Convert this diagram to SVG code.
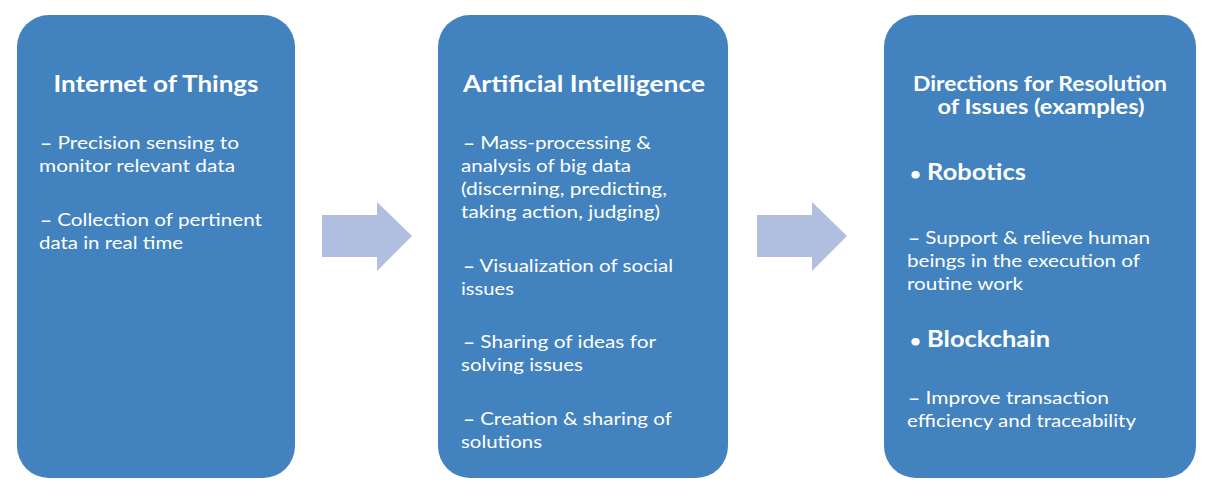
<svg xmlns="http://www.w3.org/2000/svg" width="1211" height="497" viewBox="0 0 1211 497">
<style>
.box{fill:#4282BE;}
.arr{fill:#B0BEDF;}
text{fill:#FFFFFF;font-family:Lato,"Open Sans","Liberation Sans",sans-serif;}
.t{font-size:22px;font-weight:bold;text-anchor:middle;}
.t2{font-size:20px;font-weight:bold;text-anchor:middle;}
.b{font-size:17.5px;}
.h{font-size:23px;font-weight:bold;}
.d{font-weight:bold;}
.bu{font-size:17px;}
</style>
<rect width="1211" height="497" fill="#FFFFFF"/>
<g id="connectors">
<polygon class="arr" points="322,215 377,215 377,202 412,236 377,271 377,257 322,257"/>
<polygon class="arr" points="757,215 812,215 812,202 847,236 812,271 812,257 757,257"/>
</g>
<g id="node-iot">
<rect class="box" x="17" y="15" width="278" height="463" rx="32" ry="32"/>
<text class="t" x="156" y="92" textLength="205" lengthAdjust="spacingAndGlyphs">Internet of Things</text>
<text class="b" x="40" y="149" textLength="199" lengthAdjust="spacingAndGlyphs"><tspan class="d">–</tspan> Precision sensing to</text>
<text class="b" x="39" y="172" textLength="196" lengthAdjust="spacingAndGlyphs">monitor relevant data</text>
<text class="b" x="40" y="226" textLength="222" lengthAdjust="spacingAndGlyphs"><tspan class="d">–</tspan> Collection of pertinent</text>
<text class="b" x="39" y="249" textLength="144" lengthAdjust="spacingAndGlyphs">data in real time</text>
</g>
<g id="node-ai">
<rect class="box" x="438" y="15" width="290" height="463" rx="32" ry="32"/>
<text class="t" x="584" y="92" textLength="242" lengthAdjust="spacingAndGlyphs">Artificial Intelligence</text>
<text class="b" x="463" y="149" textLength="188" lengthAdjust="spacingAndGlyphs"><tspan class="d">–</tspan> Mass-processing &amp;</text>
<text class="b" x="461" y="172" textLength="170" lengthAdjust="spacingAndGlyphs">analysis of big data</text>
<text class="b" x="461" y="195" textLength="206" lengthAdjust="spacingAndGlyphs">(discerning, predicting,</text>
<text class="b" x="461" y="218" textLength="199" lengthAdjust="spacingAndGlyphs">taking action, judging)</text>
<text class="b" x="463" y="272" textLength="210" lengthAdjust="spacingAndGlyphs"><tspan class="d">–</tspan> Visualization of social</text>
<text class="b" x="461" y="295" textLength="53" lengthAdjust="spacingAndGlyphs">issues</text>
<text class="b" x="463" y="348" textLength="193" lengthAdjust="spacingAndGlyphs"><tspan class="d">–</tspan> Sharing of ideas for</text>
<text class="b" x="461" y="371" textLength="122" lengthAdjust="spacingAndGlyphs">solving issues</text>
<text class="b" x="463" y="425" textLength="209" lengthAdjust="spacingAndGlyphs"><tspan class="d">–</tspan> Creation &amp; sharing of</text>
<text class="b" x="461" y="448" textLength="81" lengthAdjust="spacingAndGlyphs">solutions</text>
</g>
<g id="node-directions">
<rect class="box" x="884" y="15" width="312" height="463" rx="32" ry="32"/>
<text class="t2" x="1040" y="91" textLength="254" lengthAdjust="spacingAndGlyphs">Directions for Resolution</text>
<text class="t2" x="1041" y="114" textLength="207" lengthAdjust="spacingAndGlyphs">of Issues (examples)</text>
<text class="h" x="910" y="180" textLength="116" lengthAdjust="spacingAndGlyphs"><tspan class="bu">•</tspan> Robotics</text>
<text class="b" x="908" y="244" textLength="242" lengthAdjust="spacingAndGlyphs"><tspan class="d">–</tspan> Support &amp; relieve human</text>
<text class="b" x="907" y="267" textLength="233" lengthAdjust="spacingAndGlyphs">beings in the execution of</text>
<text class="b" x="907" y="290" textLength="116" lengthAdjust="spacingAndGlyphs">routine work</text>
<text class="h" x="910" y="347" textLength="140" lengthAdjust="spacingAndGlyphs"><tspan class="bu">•</tspan> Blockchain</text>
<text class="b" x="908" y="404" textLength="201" lengthAdjust="spacingAndGlyphs"><tspan class="d">–</tspan> Improve transaction</text>
<text class="b" x="907" y="427" textLength="229" lengthAdjust="spacingAndGlyphs">efficiency and traceability</text>
</g>
</svg>
